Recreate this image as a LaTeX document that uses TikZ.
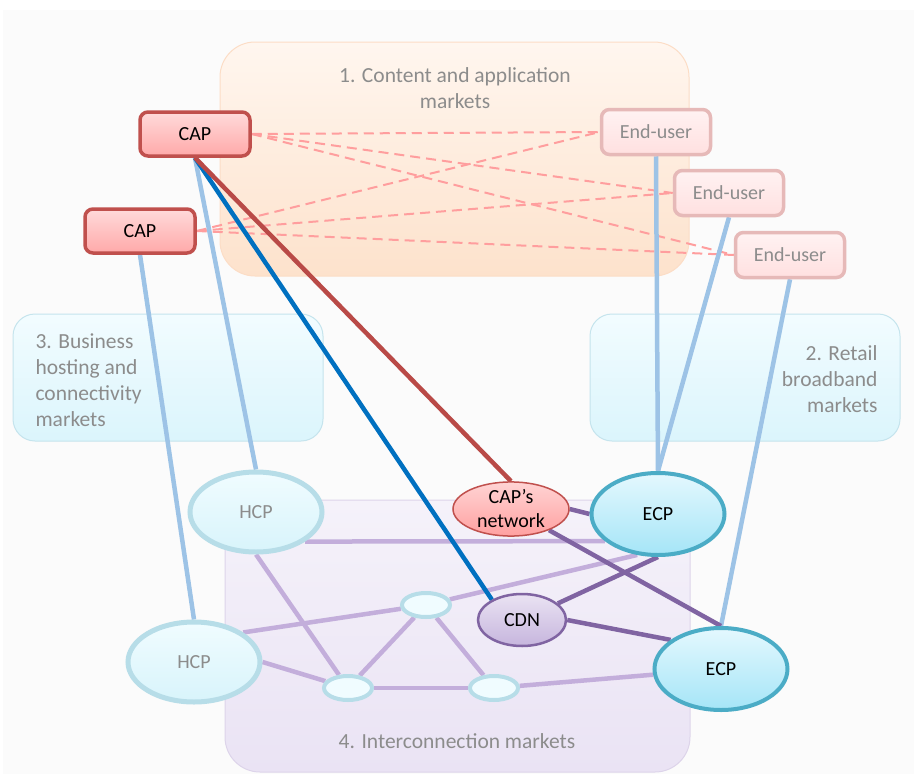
\documentclass[tikz,border=0pt]{standalone}
\usepackage{fontspec}
\setmainfont{Carlito}
\usepackage{xcolor}
\usepackage{tikz}
\usetikzlibrary{shapes.geometric}

\definecolor{pagegray}{HTML}{FBFBFB}
\definecolor{labelgray}{HTML}{8C8C8C}
\definecolor{capred}{HTML}{C0504D}
\definecolor{userrim}{HTML}{E6B9B8}
\definecolor{hcprim}{HTML}{B7DDE8}
\definecolor{ecprim}{HTML}{4BACC6}
\definecolor{cdnrim}{HTML}{8064A2}
\definecolor{accessblue}{HTML}{9DC3E6}
\definecolor{deepblue}{HTML}{0070C0}
\definecolor{ownred}{HTML}{B94A47}
\definecolor{transitpurple}{HTML}{8064A2}
\definecolor{peerpurple}{HTML}{C3AEDB}
\definecolor{dashpink}{HTML}{FF9E9E}
\definecolor{contenttop}{HTML}{FFF6EF}
\definecolor{contentbot}{HTML}{FDE2CC}
\definecolor{contentrim}{HTML}{FCDDC6}
\definecolor{sidetop}{HTML}{F2FCFF}
\definecolor{sidebot}{HTML}{DBF5FC}
\definecolor{intertop}{HTML}{F5F2FA}
\definecolor{interbot}{HTML}{EAE3F4}
\definecolor{interrim}{HTML}{DDD4EA}
\definecolor{captop}{HTML}{FFDADA}
\definecolor{capbot}{HTML}{FFA9A9}
\definecolor{usertop}{HTML}{FFF2F2}
\definecolor{userbot}{HTML}{FFE0E0}
\definecolor{hcptop}{HTML}{F0FCFF}
\definecolor{hcpbot}{HTML}{D8F4FB}
\definecolor{ecptop}{HTML}{E4F8FE}
\definecolor{ecpbot}{HTML}{A5E5F7}
\definecolor{cdntop}{HTML}{EAE3F3}
\definecolor{cdnbot}{HTML}{C6B5DD}
\definecolor{nettop}{HTML}{FFD4D4}
\definecolor{netbot}{HTML}{FFA0A0}

\pgfdeclarelayer{back}
\pgfdeclarelayer{links}
\pgfsetlayers{back,links,main}

\begin{document}
\begin{tikzpicture}[x=1pt,y=-1pt,
  every node/.style={font=\fontsize{20}{24}\selectfont},
  market/.style={rounded corners=35pt,line width=1pt,inner sep=0pt},
  contentmkt/.style={market,draw=contentrim,top color=contenttop,bottom color=contentbot},
  sidemkt/.style={market,rounded corners=22pt,draw=hcprim!80,top color=sidetop,bottom color=sidebot},
  intermkt/.style={market,draw=interrim,top color=intertop,bottom color=interbot},
  marktext/.style={text=labelgray,font=\fontsize{21.5}{26}\selectfont},
  capbox/.style={draw=capred,line width=3.5pt,rounded corners=8pt,top color=captop,bottom color=capbot,
    minimum width=110pt,minimum height=44pt},
  userbox/.style={draw=userrim,line width=3.5pt,rounded corners=8pt,top color=usertop,bottom color=userbot,
    text=labelgray,minimum width=109pt,minimum height=45pt},
  hcp/.style={ellipse,draw=hcprim,line width=5pt,top color=hcptop,bottom color=hcpbot,
    text=labelgray,minimum width=132pt,minimum height=80pt,inner sep=0pt},
  ecp/.style={ellipse,draw=ecprim,line width=4pt,top color=ecptop,bottom color=ecpbot,
    minimum width=133pt,minimum height=82pt,inner sep=0pt},
  capnet/.style={ellipse,draw=capred,line width=1.5pt,top color=nettop,bottom color=netbot,
    minimum width=116pt,minimum height=54pt,inner sep=0pt,align=center},
  cdn/.style={ellipse,draw=cdnrim,line width=2.5pt,top color=cdntop,bottom color=cdnbot,
    minimum width=88pt,minimum height=52pt,inner sep=0pt},
  hub/.style={ellipse,draw=hcprim,line width=4pt,fill=hcptop,minimum width=48pt,minimum height=24pt},
  dashlink/.style={dashpink,line width=2pt,dash pattern=on 10pt off 6pt},
  access/.style={accessblue,line width=4.5pt},
  peering/.style={peerpurple,line width=4.5pt},
  transit/.style={transitpurple,line width=4.5pt},
  cdnlink/.style={deepblue,line width=4.5pt},
  ownlink/.style={ownred,line width=4.5pt}
]
\useasboundingbox (0,0) rectangle (914,774);
%--- market areas ---
\begin{pgfonlayer}{back}
  \fill[white] (0,0) rectangle (914,774);
  \fill[pagegray] (3,10) rectangle (914,774);
  \node[contentmkt,minimum width=469pt,minimum height=234pt] (content) at (454.5,159) {};
  \node[sidemkt,minimum width=310pt,minimum height=127pt] (hosting) at (168,377.5) {};
  \node[sidemkt,minimum width=310pt,minimum height=127pt] (retail) at (745,377.5) {};
  \node[intermkt,minimum width=465pt,minimum height=272pt] (inter) at (457.5,636) {};
  \node[marktext,align=center] (contentlbl) at (455,88) {1. Content and application\\markets};
  \node[marktext,align=left,anchor=west] (hostinglbl) at (32,380) {3. Business\\hosting and\\connectivity\\markets};
  \node[marktext,align=right,anchor=east] (retaillbl) at (881,379) {2. Retail\\broadband\\markets};
  \node[marktext] (interlbl) at (457,741) {4. Interconnection markets};
\end{pgfonlayer}

%--- players ---
\node[capbox] (cap1) at (195,134) {CAP};
\node[capbox] (cap2) at (140,231) {CAP};
\node[userbox] (eu1) at (656,132) {End-user};
\node[userbox] (eu2) at (729,193) {End-user};
\node[userbox] (eu3) at (790,255) {End-user};
\node[hcp] (hcp1) at (256,512) {HCP};
\node[hcp] (hcp2) at (194,662) {HCP};
\node[capnet] (capnet) at (511,509) {CAP’s\\network};
\node[ecp] (ecp1) at (658,514) {ECP};
\node[cdn] (cdn) at (522,620) {CDN};
\node[ecp] (ecp2) at (721,669) {ECP};
\node[hub] (hub1) at (426,605) {};
\node[hub] (hub2) at (348,688) {};
\node[hub] (hub3) at (494,688) {};

%--- links ---
\begin{pgfonlayer}{links}
  % content traffic
  \foreach \c in {cap1,cap2}
    \foreach \u in {eu1,eu2,eu3}
      \draw[dashlink] (\c.east) -- (\u.west);
  % access lines
  \draw[access] (cap1.south) -- (hcp1.north);
  \draw[access] (cap2.south) -- (hcp2.north);
  \draw[access] (eu1.south) -- (ecp1.north);
  \draw[access] (eu2.south) -- (ecp1.north);
  \draw[access] (eu3.south) -- (ecp2.north);
  % interconnection mesh
  \draw[peering] (hcp1.-31) -- (ecp1.207);
  \draw[peering] (hcp1.south) -- (hub2);
  \draw[peering] (hcp2.31) -- (hub1);
  \draw[peering] (hub1) -- (ecp1.243);
  \draw[peering] (hcp2.east) -- (hub2);
  \draw[peering] (hub1) -- (hub2);
  \draw[peering] (hub1) -- (hub3);
  \draw[peering] (hub2) -- (hub3);
  \draw[peering] (hub3) -- (ecp2);
  \draw[transit] (capnet.east) -- (ecp1.west);
  \draw[transit] (capnet) -- (ecp2.north);
  \draw[transit] (cdn) -- (ecp1.south);
  \draw[transit] (cdn.east) -- (ecp2.150);
  % CAP's own delivery
  \draw[cdnlink] (cap1.south) -- (cdn.146);
  \draw[ownlink] (cap1.south) -- (capnet.north);
\end{pgfonlayer}
\end{tikzpicture}
\end{document}
